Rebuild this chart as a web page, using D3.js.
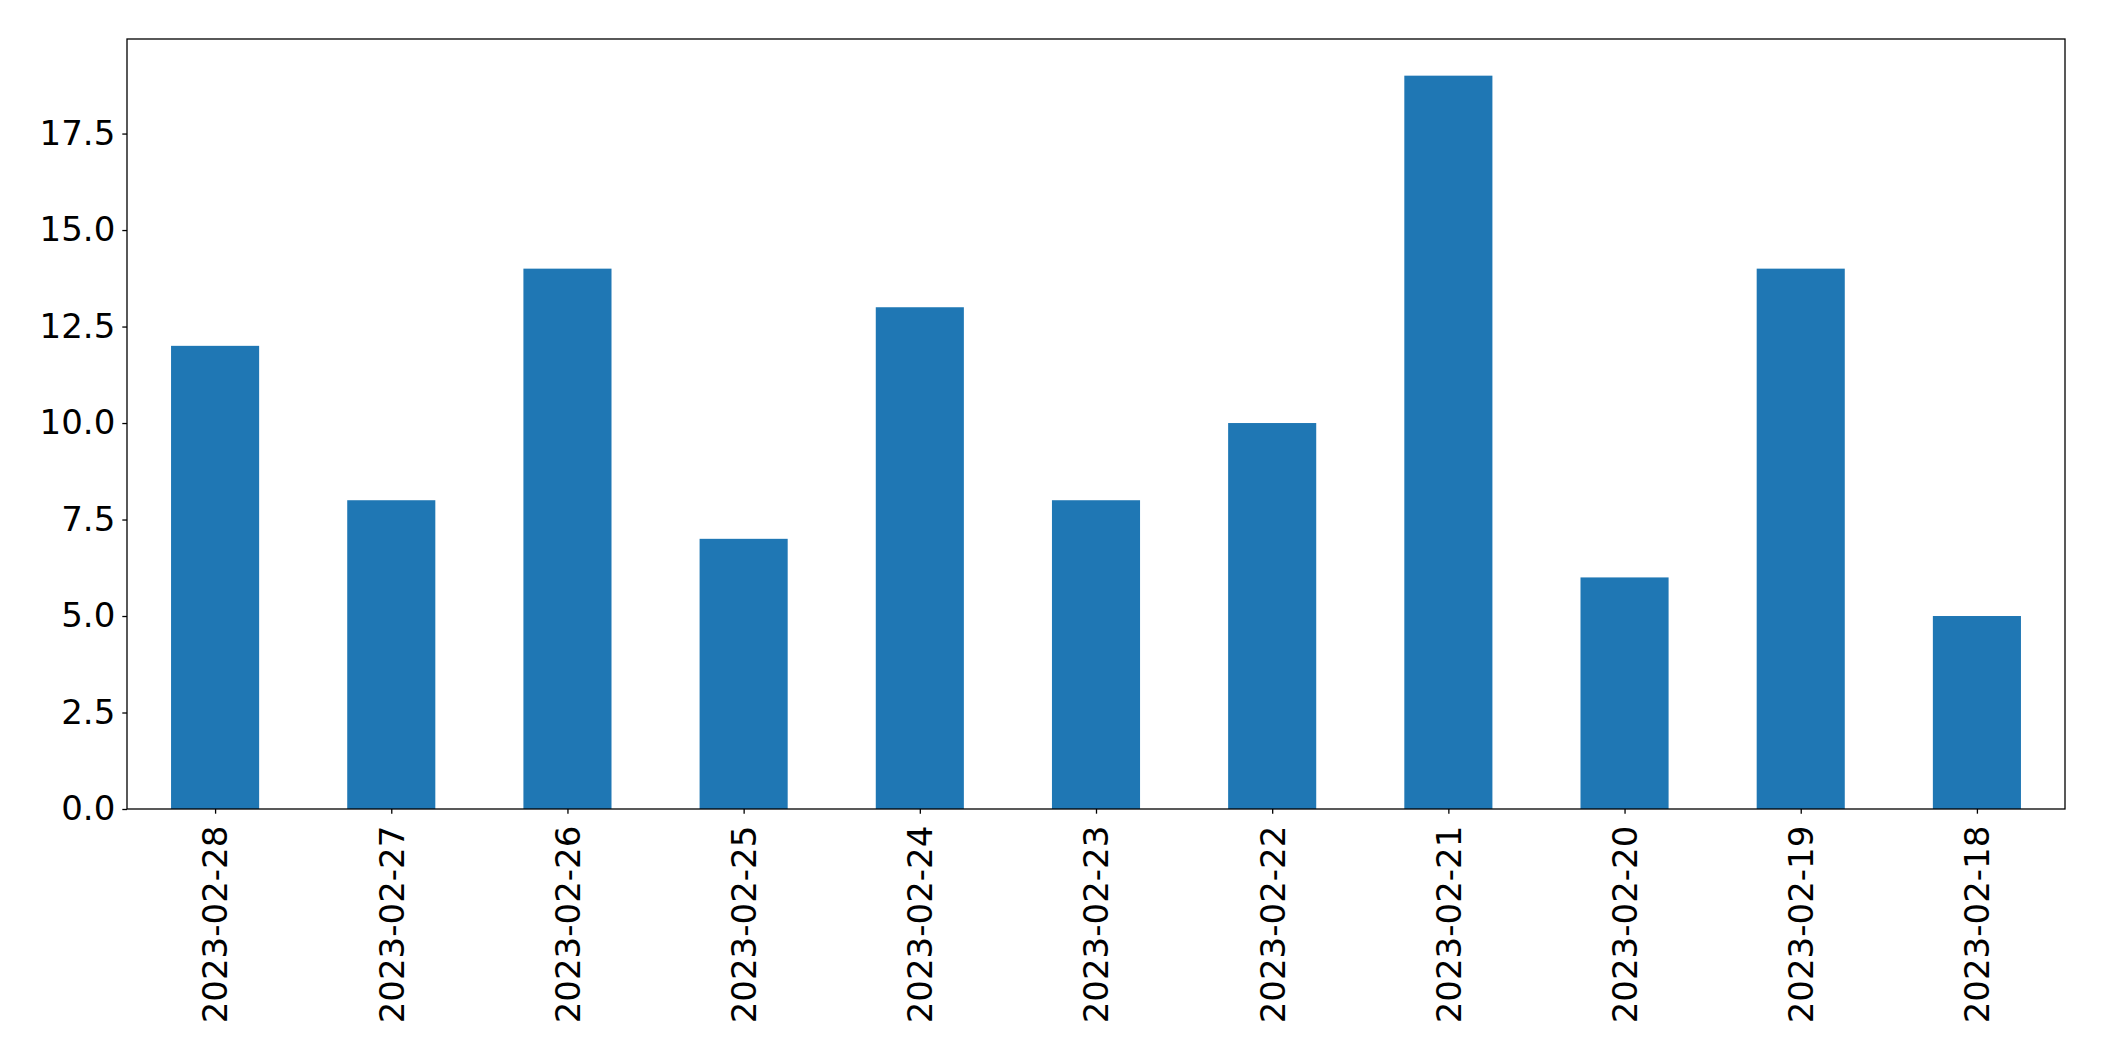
<!DOCTYPE html>
<html>
<head>
<meta charset="utf-8">
<script src="https://cdn.jsdelivr.net/npm/d3@7"></script>
<style>
  html, body { margin: 0; padding: 0; background: #fff; }
  svg { display: block; }
</style>
</head>
<body>
<svg id="chart" width="2104" height="1061"></svg>
<script>
const categories = ["2023-02-28","2023-02-27","2023-02-26","2023-02-25","2023-02-24","2023-02-23","2023-02-22","2023-02-21","2023-02-20","2023-02-19","2023-02-18"];
const values = [12, 8, 14, 7, 13, 8, 10, 19, 6, 14, 5];
const yTicks = [0, 2.5, 5, 7.5, 10, 12.5, 15, 17.5];

const W = 2104, H = 1061;
const mLeft = 127, mRight = 2065, mTop = 39, mBottom = 809;
const fontSize = 34;
const svg = d3.select("#chart");

const x = d3.scaleLinear().domain([-0.5, categories.length - 0.5]).range([mLeft, mRight]);
const y = d3.scaleLinear().domain([0, d3.max(values) * 1.05]).range([mBottom, mTop]);

svg.append("g").selectAll("rect").data(values).join("rect")
  .attr("x", (d, i) => x(i - 0.25))
  .attr("width", (d, i) => x(i + 0.25) - x(i - 0.25))
  .attr("y", d => y(d))
  .attr("height", d => y(0) - y(d))
  .attr("fill", "#1f77b4");

const yAxis = d3.axisLeft(y).tickValues(yTicks).tickFormat(d3.format(".1f")).tickSize(4.7).tickPadding(7);
const gy = svg.append("g").attr("transform", `translate(${mLeft},0)`).call(yAxis);
gy.select(".domain").remove();
gy.selectAll("line").attr("stroke", "#000").attr("stroke-width", 1.3);
gy.selectAll("text").attr("font-family", "DejaVu Sans").attr("font-size", fontSize).attr("fill", "#000");

const xAxis = d3.axisBottom(x).tickValues(d3.range(categories.length)).tickFormat(i => categories[i]).tickSize(4.7).tickPadding(7);
const gx = svg.append("g").attr("transform", `translate(0,${mBottom})`).call(xAxis);
gx.select(".domain").remove();
gx.selectAll("line").attr("stroke", "#000").attr("stroke-width", 1.3);
gx.selectAll("text")
  .attr("font-family", "DejaVu Sans").attr("font-size", fontSize).attr("fill", "#000")
  .attr("transform", "rotate(-90)")
  .attr("text-anchor", "end")
  .attr("x", -(4.7 + 12))
  .attr("y", 0)
  .attr("dy", "0.35em");

svg.append("rect")
  .attr("x", mLeft).attr("y", mTop)
  .attr("width", mRight - mLeft).attr("height", mBottom - mTop)
  .attr("fill", "none").attr("stroke", "#000").attr("stroke-width", 1.3);
</script>
</body>
</html>
